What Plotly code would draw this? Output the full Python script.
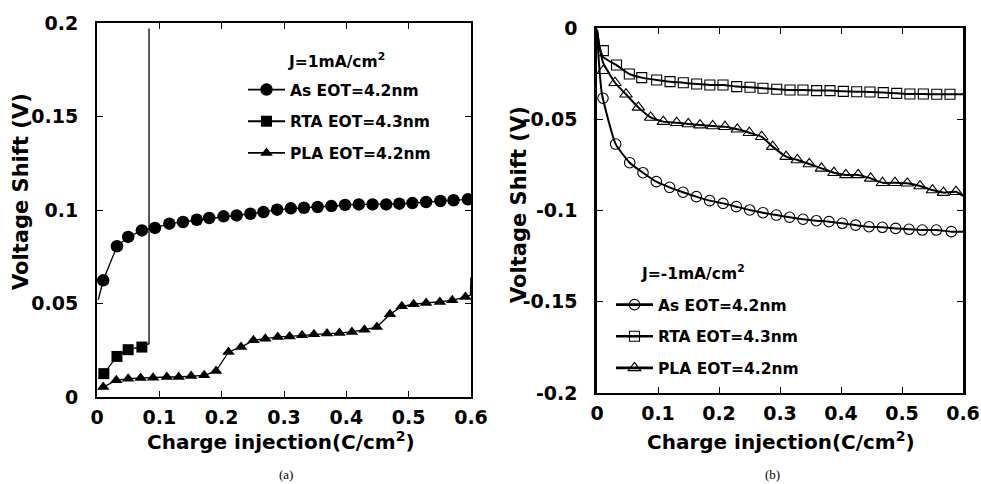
import plotly.graph_objects as go

# ---------------- Panel (a): J = 1 mA/cm^2 ----------------
a_as_x = [0.010, 0.032, 0.050, 0.072, 0.093, 0.116, 0.138, 0.160, 0.180, 0.203,
          0.224, 0.246, 0.267, 0.289, 0.311, 0.332, 0.354, 0.376, 0.398, 0.420,
          0.442, 0.464, 0.485, 0.506, 0.528, 0.551, 0.572, 0.595]
a_as_y = [0.0624, 0.0806, 0.0856, 0.0891, 0.0904, 0.0927, 0.0936, 0.0948, 0.0957, 0.0966,
          0.0971, 0.0980, 0.0989, 0.1002, 0.1009, 0.1012, 0.1016, 0.1021, 0.1027, 0.1030,
          0.1030, 0.1030, 0.1034, 0.1037, 0.1043, 0.1048, 0.1052, 0.1057]
a_as_line_x = [0.002] + a_as_x + [0.600]
a_as_line_y = [0.052] + a_as_y + [0.1060]

a_rta_x = [0.011, 0.032, 0.050, 0.072]
a_rta_y = [0.0125, 0.0217, 0.0253, 0.0267]
a_rta_line_x = [0.002, 0.011, 0.032, 0.050, 0.072, 0.0835, 0.0835]
a_rta_line_y = [0.0100, 0.0125, 0.0217, 0.0253, 0.0270, 0.0285, 0.1970]

a_pla_x = [0.010, 0.031, 0.050, 0.070, 0.090, 0.112, 0.131, 0.151, 0.172, 0.191,
           0.211, 0.231, 0.251, 0.270, 0.290, 0.309, 0.329, 0.348, 0.369, 0.389,
           0.409, 0.429, 0.449, 0.470, 0.489, 0.508, 0.528, 0.550, 0.570, 0.591]
a_pla_y = [0.0053, 0.0089, 0.0098, 0.0102, 0.0103, 0.0107, 0.0107, 0.0112, 0.0116, 0.0139,
           0.0241, 0.0267, 0.0303, 0.0312, 0.0321, 0.0324, 0.0330, 0.0335, 0.0339, 0.0342,
           0.0348, 0.0360, 0.0374, 0.0442, 0.0485, 0.0496, 0.0503, 0.0508, 0.0517, 0.0535]
a_pla_line_x = [0.002] + a_pla_x + [0.599, 0.600]
a_pla_line_y = [0.0040] + a_pla_y + [0.0545, 0.0640]

# ---------------- Panel (b): J = -1 mA/cm^2 ----------------
b_as_x = [0.0098, 0.0306, 0.0536, 0.0754, 0.0973, 0.1190, 0.1410, 0.1628, 0.1847, 0.2066,
          0.2284, 0.2503, 0.2721, 0.2940, 0.3158, 0.3377, 0.3596, 0.3803, 0.4022, 0.4240,
          0.4459, 0.4678, 0.4896, 0.5115, 0.5333, 0.5563, 0.5809]
b_as_y = [-0.0385, -0.0636, -0.0738, -0.0793, -0.0842, -0.0873, -0.0900, -0.0924, -0.0946, -0.0961,
          -0.0979, -0.0997, -0.1012, -0.1025, -0.1037, -0.1048, -0.1056, -0.1061, -0.1070, -0.1080,
          -0.1089, -0.1092, -0.1098, -0.1103, -0.1107, -0.1107, -0.1116]
b_as_line_x = [0.000, 0.003, 0.008] + b_as_x[1:] + [0.600]
b_as_line_y = [-0.001, -0.018, -0.036] + b_as_y[1:] + [-0.1116]

b_rta_x = [0.0104, 0.0320, 0.0530, 0.0733, 0.0978, 0.1197, 0.1415, 0.1634, 0.1850, 0.2066,
           0.2290, 0.2508, 0.2721, 0.2946, 0.3164, 0.3377, 0.3600, 0.3820, 0.4038, 0.4257,
           0.4475, 0.4693, 0.4913, 0.5130, 0.5350, 0.5570, 0.5787]
b_rta_y = [-0.0124, -0.0203, -0.0252, -0.0272, -0.0285, -0.0294, -0.0300, -0.0307, -0.0312, -0.0312,
           -0.0321, -0.0325, -0.0330, -0.0336, -0.0340, -0.0340, -0.0343, -0.0343, -0.0347, -0.0349,
           -0.0351, -0.0354, -0.0358, -0.0362, -0.0362, -0.0363, -0.0363]
b_rta_line_x = [0.000, 0.004, 0.010] + b_rta_x[1:] + [0.600]
b_rta_line_y = [-0.001, -0.010, -0.016] + b_rta_y[1:] + [-0.0363]

b_pla_x = [0.0104, 0.0295, 0.0475, 0.0678, 0.0880, 0.1087, 0.1306, 0.1497, 0.1689, 0.1896,
           0.2098, 0.2300, 0.2497, 0.2700, 0.2880, 0.3100, 0.3284, 0.3480, 0.3680, 0.3885,
           0.4080, 0.4280, 0.4487, 0.4680, 0.4885, 0.5087, 0.5295, 0.5500, 0.5680, 0.5885]
b_pla_y = [-0.0234, -0.0300, -0.0363, -0.0435, -0.0490, -0.0513, -0.0519, -0.0526, -0.0532, -0.0537,
           -0.0541, -0.0555, -0.0574, -0.0596, -0.0650, -0.0705, -0.0723, -0.0745, -0.0769, -0.0793,
           -0.0805, -0.0805, -0.0824, -0.0848, -0.0848, -0.0851, -0.0866, -0.0888, -0.0902, -0.0897]
b_pla_line_x = [0.000, 0.005, 0.010] + b_pla_x[1:] + [0.600]
b_pla_line_y = [-0.001, -0.012, -0.019] + b_pla_y[1:] + [-0.0920]

series_names = ["As EOT=4.2nm", "RTA EOT=4.3nm", "PLA EOT=4.2nm"]

x_ticks = [0, 0.1, 0.2, 0.3, 0.4, 0.5, 0.6]
x_ticktext = ["0", "0.1", "0.2", "0.3", "0.4", "0.5", "0.6"]
a_y_ticks = [0, 0.05, 0.1, 0.15, 0.2]
a_y_ticktext = ["0", "0.05", "0.1", "0.15", "0.2"]
b_y_ticks = [-0.2, -0.15, -0.1, -0.05, 0]
b_y_ticktext = ["-0.2", "-0.15", "-0.1", "-0.05", "0"]

FONT = "DejaVu Sans"
W, H = 981, 484
def px(sx):
    return sx / W
def py(sy):
    return 1 - sy / H

fig = go.Figure()

def add_series(xl, yl, xm, ym, symbol, size, lw, xa, ya, legend, name, group, mlw, shape):
    line = dict(color="black", width=lw, shape=shape)
    if shape == "spline":
        line["smoothing"] = 0.5
    fig.add_trace(go.Scatter(x=xl, y=yl, mode="lines", xaxis=xa, yaxis=ya, line=line,
                             showlegend=False, hoverinfo="skip"))
    fig.add_trace(go.Scatter(x=xm, y=ym, mode="markers", xaxis=xa, yaxis=ya,
                             marker=dict(symbol=symbol, size=size, color="black",
                                         line=dict(color="black", width=mlw)),
                             showlegend=False, name=name))
    fig.add_trace(go.Scatter(x=[None], y=[None], mode="lines+markers", xaxis=xa, yaxis=ya,
                             line=dict(color="black", width=lw + 0.6),
                             marker=dict(symbol=symbol, size=size, color="black",
                                         line=dict(color="black", width=mlw)),
                             name=name, legend=legend, legendgroup=group, showlegend=True))

add_series(a_as_line_x, a_as_line_y, a_as_x, a_as_y, "circle", 12.5, 1.3, "x", "y", "legend", series_names[0], "a1", 0, "linear")
add_series(a_rta_line_x, a_rta_line_y, a_rta_x, a_rta_y, "square", 11, 1.3, "x", "y", "legend", series_names[1], "a2", 0, "linear")
add_series(a_pla_line_x, a_pla_line_y, a_pla_x, a_pla_y, "triangle-up", 11, 1.3, "x", "y", "legend", series_names[2], "a3", 0, "linear")

add_series(b_as_line_x, b_as_line_y, b_as_x, b_as_y, "circle-open", 10.5, 2.0, "x2", "y2", "legend2", series_names[0], "b1", 1.1, "spline")
add_series(b_rta_line_x, b_rta_line_y, b_rta_x, b_rta_y, "square-open", 10, 2.0, "x2", "y2", "legend2", series_names[1], "b2", 1.1, "spline")
add_series(b_pla_line_x, b_pla_line_y, b_pla_x, b_pla_y, "triangle-up-open", 11, 2.0, "x2", "y2", "legend2", series_names[2], "b3", 1.1, "spline")

tickfont = dict(family=FONT, size=19, color="black", weight="bold")
titlefont_x = dict(family=FONT, size=20, color="black", weight="bold")
titlefont_y = dict(family=FONT, size=21, color="black", weight="bold")
legfont = dict(family=FONT, size=15.5, color="black", weight="bold")

common_x = dict(range=[0, 0.6], tickvals=x_ticks, ticktext=x_ticktext, ticks="inside", ticklen=6,
                tickwidth=1, tickcolor="black", showline=True, linecolor="black", linewidth=2,
                mirror="ticks", showgrid=False, zeroline=False, tickfont=tickfont,
                ticklabelstandoff=2, automargin=False)
common_y = dict(ticks="inside", ticklen=6, tickwidth=1, tickcolor="black", showline=True,
                linecolor="black", mirror="ticks", showgrid=False, zeroline=False,
                tickfont=tickfont, ticklabelstandoff=13, automargin=False)

def ann(text, sx, sy, font, angle=0):
    return dict(text=text, x=px(sx), y=py(sy), xref="paper", yref="paper", showarrow=False,
                xanchor="center", yanchor="middle", textangle=angle, font=font)

fig.update_layout(
    width=W, height=H, margin=dict(l=0, r=0, t=0, b=0),
    paper_bgcolor="white", plot_bgcolor="white", showlegend=True,
    xaxis=dict(domain=[px(97), px(471)], anchor="y", **common_x),
    yaxis=dict(domain=[py(397), py(23)], anchor="x", range=[0, 0.2], tickvals=a_y_ticks,
               ticktext=a_y_ticktext, linewidth=2, **common_y),
    xaxis2=dict(domain=[px(597), px(963)], anchor="y2", **common_x),
    yaxis2=dict(domain=[py(393), py(28)], anchor="x2", range=[-0.2, 0], tickvals=b_y_ticks,
                ticktext=b_y_ticktext, linewidth=2.5, **common_y),
    legend=dict(x=px(243), y=py(73), xanchor="left", yanchor="top",
                bgcolor="rgba(0,0,0,0)", borderwidth=0, itemwidth=37,
                traceorder="grouped", tracegroupgap=8.5, font=legfont),
    legend2=dict(x=px(611), y=py(288), xanchor="left", yanchor="top",
                 bgcolor="rgba(0,0,0,0)", borderwidth=0, itemwidth=37,
                 traceorder="grouped", tracegroupgap=8.5, font=legfont),
    annotations=[
        ann("J=1mA/cm<sup>2</sup>", 336, 60, legfont),
        ann("J=-1mA/cm<sup>2</sup>", 693, 272, legfont),
        ann("Voltage Shift (V)", 21, 192, titlefont_y, -90),
        ann("Voltage Shift (V)", 519, 205, titlefont_y, -90),
        ann("Charge injection(C/cm<sup>2</sup>)", 281, 441, titlefont_x),
        ann("Charge injection(C/cm<sup>2</sup>)", 781, 441, titlefont_x),
        ann("(a)", 286, 474, dict(family="Liberation Serif", size=13, color="black")),
        ann("(b)", 772, 474, dict(family="Liberation Serif", size=13, color="black")),
    ],
)

# remove the browser's default 8px page margin so the figure fills the window exactly
fig.write_html("out.html", config={"displayModeBar": False},
               post_script="document.body.style.margin='0';document.body.style.overflow='hidden';")
